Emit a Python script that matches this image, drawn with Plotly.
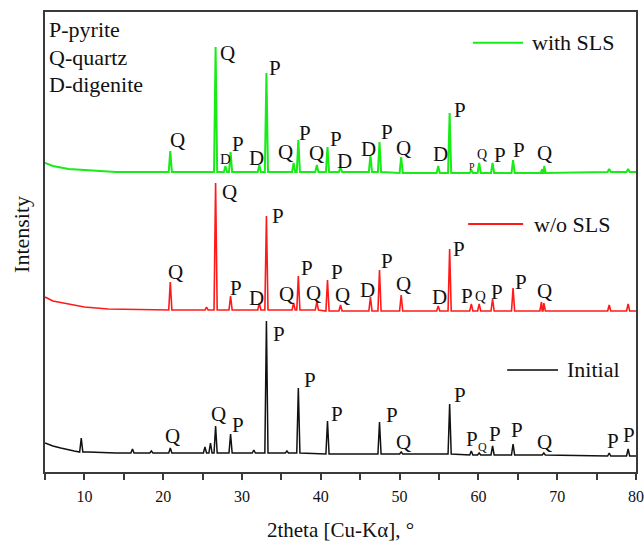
import plotly.graph_objects as go

# ---------------- data ----------------
# Local background (2theta, intensity a.u., series already offset)
green_bg_2theta = [5, 6, 8, 10, 14, 80]
green_bg_int = [309, 306, 303, 302, 300, 300]
red_bg_2theta = [5, 6, 8, 10, 13, 20, 80]
red_bg_int = [175, 171, 168, 165, 163, 162, 161]
black_bg_2theta = [5, 6, 7, 8, 8.7, 10.5, 14, 30, 50, 80]
black_bg_int = [29, 26, 24, 22, 21, 20, 19, 19, 18, 16]

# Peaks: position, apex intensity, local background under the peak
green_pk_2theta = [20.9, 26.65, 27.9, 28.55, 32.2, 33.1, 36.55, 37.15, 39.5, 40.85,
                   42.5, 46.3, 47.45, 50.2, 54.9, 56.35, 59.1, 60.1, 61.8, 64.4,
                   68.1, 68.35, 76.6, 79.0]
green_pk_int = [321, 425, 306, 320, 307, 399, 309, 332, 307, 325,
                305, 317, 330, 315, 306, 359, 302, 309, 309, 312,
                303, 306, 303, 303]
green_pk_base = [300, 300, 300, 300, 300, 300, 300, 300, 300, 300,
                 300, 300, 300, 299, 299, 299, 299, 299, 299, 299,
                 299, 299, 300, 300]

red_pk_2theta = [20.9, 25.5, 26.65, 28.55, 32.2, 33.1, 36.55, 37.15, 39.5, 40.85,
                 42.5, 46.3, 47.45, 50.2, 54.9, 56.35, 59.1, 60.1, 61.8, 64.4,
                 68.0, 68.3, 76.6, 79.0]
red_pk_int = [190, 165, 289, 176, 169, 256, 169, 196, 170, 192,
              167, 175, 202, 177, 166, 223, 168, 168, 173, 184,
              170, 169, 167, 168]
red_pk_base = [162, 162, 162, 162, 162, 162, 162, 162, 162, 161,
               161, 161, 161, 161, 161, 161, 161, 161, 161, 161,
               161, 161, 161, 161]

black_pk_2theta = [9.6, 16.1, 18.5, 20.9, 25.3, 26.0, 26.65, 28.55, 31.5, 33.1,
                   35.7, 37.15, 40.85, 47.45, 50.2, 56.35, 59.1, 60.1, 61.8, 64.4,
                   68.3, 76.6, 79.0]
black_pk_int = [34, 23, 21, 24, 25, 29, 46, 38, 22, 151,
                21, 84, 51, 50, 20, 68, 21, 19, 26, 28,
                19, 19, 23]
black_pk_base = [20, 19, 19, 19, 19, 19, 19, 19, 19, 19,
                 19, 19, 18, 18, 18, 18, 17, 17, 17, 17,
                 17, 16, 16]

# Phase labels: 2theta, intensity, letter
green_lbl_2theta = [21.8, 28.2, 29.45, 31.9, 34.2, 35.55, 38.0, 39.4, 41.95, 43.05,
                    46.0, 48.4, 50.45, 55.2, 57.7, 62.7, 65.2, 68.4]
green_lbl_int = [332, 419, 328, 314, 404, 320, 339, 319, 333, 311,
                 323, 340, 324, 318, 362, 317, 322, 319]
green_lbl_txt = ["Q", "Q", "P", "D", "P", "Q", "P", "Q", "P", "D",
                 "D", "P", "Q", "D", "P", "P", "P", "Q"]
green_small_2theta = [27.9, 59.25, 60.4]
green_small_int = [313, 306, 318]
green_small_txt = ["D", "P", "Q"]

red_lbl_2theta = [21.55, 28.4, 29.2, 31.9, 34.55, 35.7, 38.25, 39.1, 42.05, 42.8,
                  45.9, 48.4, 50.45, 55.05, 57.6, 58.6, 62.3, 65.35, 68.4]
red_lbl_int = [200, 280, 184, 174, 256, 178, 204, 179, 200, 177,
               182, 211, 188, 175, 223, 176, 180, 190, 181]
red_lbl_txt = ["Q", "Q", "P", "D", "P", "Q", "P", "Q", "P", "Q",
               "D", "P", "Q", "D", "P", "P", "P", "P", "Q"]
red_small_2theta = [60.3]
red_small_int = [176]
red_small_txt = ["Q"]

black_lbl_2theta = [21.2, 27.0, 29.45, 34.65, 38.6, 42.05, 49.05, 50.45, 57.7, 59.15,
                    62.05, 64.95, 68.4, 77.1, 79.1]
black_lbl_int = [36, 58, 47, 138, 92, 58, 57, 30, 77, 33,
                 38, 42, 30, 31, 37]
black_lbl_txt = ["Q", "Q", "P", "P", "P", "P", "P", "Q", "P", "P",
                 "P", "P", "Q", "P", "P"]
black_small_2theta = [60.5]
black_small_int = [25]
black_small_txt = ["Q"]

series_names = ["with SLS", "w/o SLS", "Initial"]
series_colors = ["#17ec17", "#ff1a1a", "#111111"]
phase_key = ["P-pyrite", "Q-quartz", "D-digenite"]
x_tick_vals = [10, 20, 30, 40, 50, 60, 70, 80]

FONT = "Liberation Serif"
HW = 0.2  # half width of a peak at its base (deg)


def build(bg_x, bg_y, pk_x, pk_y, pk_b):
    pts = list(zip(bg_x, bg_y))
    for p, top, base in zip(pk_x, pk_y, pk_b):
        pts += [(p - HW, base), (p, top), (p + HW, base)]
    pts.sort(key=lambda t: t[0])
    return [t[0] for t in pts], [t[1] for t in pts]


fig = go.Figure()
traces = [
    (green_bg_2theta, green_bg_int, green_pk_2theta, green_pk_int, green_pk_base, 2.0),
    (red_bg_2theta, red_bg_int, red_pk_2theta, red_pk_int, red_pk_base, 1.6),
    (black_bg_2theta, black_bg_int, black_pk_2theta, black_pk_int, black_pk_base, 1.5),
]
for (bx, by, px, py, pb, w), name, col in zip(traces, series_names, series_colors):
    xs, ys = build(bx, by, px, py, pb)
    fig.add_trace(go.Scatter(x=xs, y=ys, mode="lines", name=name,
                             line=dict(color=col, width=w), showlegend=False))

ann = []
for xs, ys, ts, size in [
    (green_lbl_2theta, green_lbl_int, green_lbl_txt, 21),
    (red_lbl_2theta, red_lbl_int, red_lbl_txt, 21),
    (black_lbl_2theta, black_lbl_int, black_lbl_txt, 21),
    (green_small_2theta[:1], green_small_int[:1], green_small_txt[:1], 15),
    (green_small_2theta[1:2], green_small_int[1:2], green_small_txt[1:2], 10),
    (green_small_2theta[2:], green_small_int[2:], green_small_txt[2:], 14),
    (red_small_2theta, red_small_int, red_small_txt, 15),
    (black_small_2theta, black_small_int, black_small_txt, 12),
]:
    for x, y, t in zip(xs, ys, ts):
        ann.append(dict(x=x, y=y, xref="x", yref="y", text=t, showarrow=False,
                        xanchor="center", yanchor="middle",
                        font=dict(family=FONT, size=size, color="#111")))

# phase key (top left)
for txt, yp in zip(phase_key, [0.963, 0.902, 0.843]):
    ann.append(dict(x=0.004, y=yp, xref="paper", yref="paper", text=txt,
                    showarrow=False, xanchor="left", yanchor="middle",
                    font=dict(family=FONT, size=22, color="#111")))

# legend entries placed next to each pattern
shapes = []
leg = [(0.724, 0.809, 0.933, 0.821), (0.716, 0.809, 0.539, 0.824),
       (0.782, 0.868, 0.222, 0.880)]
for (x0, x1, yy, xt), name, col in zip(leg, series_names, series_colors):
    shapes.append(dict(type="line", xref="paper", yref="paper", x0=x0, x1=x1,
                       y0=yy, y1=yy, line=dict(color=col if col != "#111111" else "#444", width=2)))
    ann.append(dict(x=xt, y=yy, xref="paper", yref="paper", text=name,
                    showarrow=False, xanchor="left", yanchor="middle",
                    font=dict(family=FONT, size=22, color="#111")))

# y axis title
ann.append(dict(x=-0.041, y=0.517, xref="paper", yref="paper", text="Intensity",
                textangle=-90, showarrow=False, xanchor="center", yanchor="middle",
                font=dict(family=FONT, size=22, color="#111")))

fig.update_layout(
    width=644, height=544,
    margin=dict(l=45, r=8, t=12, b=72, autoexpand=False),
    paper_bgcolor="white", plot_bgcolor="white",
    annotations=ann, shapes=shapes,
    font=dict(family=FONT, color="#111"),
)
fig.update_xaxes(
    range=[5, 80], tickvals=x_tick_vals, ticks="outside", ticklen=6, tickwidth=2,
    tickcolor="#3a3a3a", showline=True, linecolor="#3a3a3a", linewidth=2, mirror=True,
    showgrid=False, zeroline=False, tickfont=dict(family=FONT, size=16, color="#111"),
    ticklabelstandoff=3, automargin=False, ticklabeloverflow="allow",
    minor=dict(tickvals=[5, 15, 25, 35, 45, 55, 65, 75], ticks="outside", ticklen=6,
               tickwidth=2, tickcolor="#3a3a3a", showgrid=False),
    title=dict(text="2theta [Cu-Kα], °", font=dict(family=FONT, size=21, color="#111"),
               standoff=18),
)
fig.update_yaxes(
    range=[0, 460], showticklabels=False, ticks="", showline=True, linecolor="#3a3a3a",
    linewidth=2, mirror=True, showgrid=False, zeroline=False, automargin=False,
)

fig.write_html("out.html")
